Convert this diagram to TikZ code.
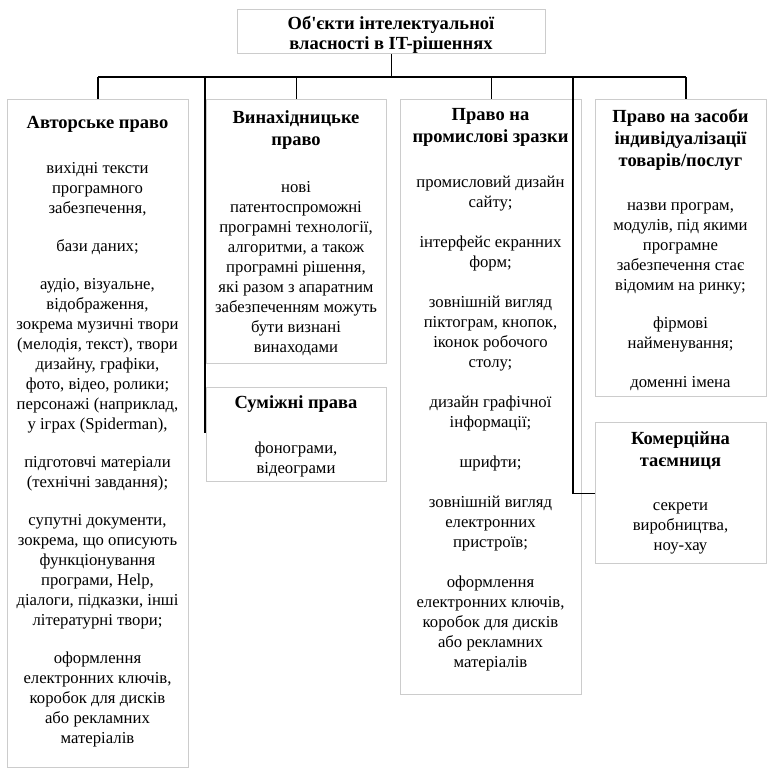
\documentclass[tikz,border=0pt]{standalone}
\usepackage{fontspec}
\setmainfont{Liberation Serif}
\definecolor{boxgray}{RGB}{204,204,204}
\begin{document}
\begin{tikzpicture}[x=1pt,y=-1pt,
  box/.style={draw=boxgray, line width=1.3pt, inner sep=0pt, anchor=north west},
  ttl/.style={font=\fontsize{18.5}{22}\selectfont\bfseries, align=center, anchor=north, inner sep=0pt},
  bdy/.style={font=\fontsize{16.7}{20}\selectfont, align=center, anchor=north, inner sep=0pt},
  conn/.style={line width=1.3pt, black}]
\useasboundingbox (0,0) rectangle (770,768);
% boxes
\node[box, minimum width=308pt, minimum height=44pt] (top) at (237,9) {};
\node[box, minimum width=181pt, minimum height=668pt] (b1) at (7,99) {};
\node[box, minimum width=180pt, minimum height=264pt] (b2) at (206,99) {};
\node[box, minimum width=180pt, minimum height=94pt] (b3) at (206,387) {};
\node[box, minimum width=181pt, minimum height=595pt] (b4) at (400,99) {};
\node[box, minimum width=171pt, minimum height=297pt] (b5) at (595,99) {};
\node[box, minimum width=171pt, minimum height=141pt] (b6) at (595,422) {};
% texts
\node[ttl, font=\fontsize{18.5}{20}\selectfont\bfseries] (t0) at (391,15) {\strut Об\textquotesingle єкти інтелектуальної\\ власності в IT-рішеннях};
\node[ttl] (t1) at (97.5,113) {\strut Авторське право};
\node[bdy] (x1) at (97.5,159) {\strut вихідні тексти\\ програмного\\ забезпечення,\\[18pt] бази даних;\\[18pt] аудіо, візуальне,\\ відображення,\\ зокрема музичні твори\\ (мелодія, текст), твори\\ дизайну, графіки,\\ фото, відео, ролики;\\ персонажі (наприклад,\\ у іграх (Spiderman),\\[18pt] підготовчі матеріали\\ (технічні завдання);\\[18pt] супутні документи,\\ зокрема, що описують\\ функціонування\\ програми, Help,\\ діалоги, підказки, інші\\ літературні твори;\\[18pt] оформлення\\ електронних ключів,\\ коробок для дисків\\ або рекламних\\ матеріалів};
\node[ttl] (t2) at (296,108) {\strut Винахідницьке\\ право};
\node[bdy] (x2) at (296,178) {\strut нові\\ патентоспроможні\\ програмні технології,\\ алгоритми, а також\\ програмні рішення,\\ які разом з апаратним\\ забезпеченням можуть\\ бути визнані\\ винаходами};
\node[ttl] (t3) at (296,393) {\strut Суміжні права};
\node[bdy] (x3) at (296,439) {\strut фонограми,\\ відеограми};
\node[ttl] (t4) at (490.5,105) {\strut Право на\\ промислові зразки};
\node[bdy] (x4) at (490.5,173) {\strut промисловий дизайн\\ сайту;\\[20pt] інтерфейс екранних\\ форм;\\[20pt] зовнішній вигляд\\ піктограм, кнопок,\\ іконок робочого\\ столу;\\[20pt] дизайн графічної\\ інформації;\\[20pt] шрифти;\\[20pt] зовнішній вигляд\\ електронних\\ пристроїв;\\[20pt] оформлення\\ електронних ключів,\\ коробок для дисків\\ або рекламних\\ матеріалів};
\node[ttl] (t5) at (680.5,107) {\strut Право на засоби\\ індивідуалізації\\ товарів/послуг};
\node[bdy] (x5) at (680.5,196) {\strut назви програм,\\ модулів, під якими\\ програмне\\ забезпечення стає\\ відомим на ринку;\\[18pt] фірмові\\ найменування;\\[19pt] доменні імена};
\node[ttl] (t6) at (680.5,429) {\strut Комерційна\\ таємниця};
\node[bdy] (x6) at (680.5,496) {\strut секрети\\ виробництва,\\ ноу-хау};
% connectors
\coordinate (busL) at (98,77);
\coordinate (busR) at (686,77);
\coordinate (j1) at (205,77);
\coordinate (j1end) at (205,433);
\coordinate (j2) at (573,77);
\draw[conn] (top.south) -- (top.south |- busL);
\draw[conn] (busL) -- (busR);
\draw[conn] (busL) -- (busL |- b1.north);
\draw[conn] (j1) -- (j1end);
\draw[conn] (b2.north |- busL) -- (b2.north);
\draw[conn] (b4.north |- busL) -- (b4.north);
\draw[conn] (j2) -- (j2 |- b6.west) -- (b6.west);
\draw[conn] (busR) -- (busR |- b5.north);
\end{tikzpicture}
\end{document}
